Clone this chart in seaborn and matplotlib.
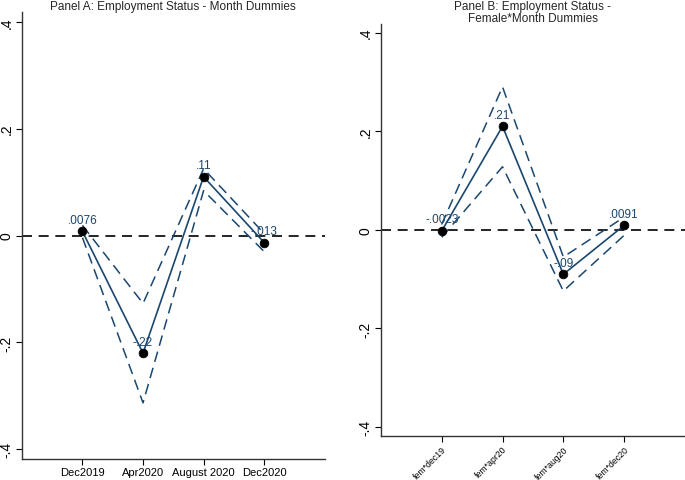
"""
plot.py - two-panel coefficient plot (employment status month dummies)
"""
import matplotlib
matplotlib.use("Agg")
import matplotlib.pyplot as plt
import seaborn as sns
import pandas as pd

# -----------------------------
# DATA
# -----------------------------
a_labels = ["Dec2019", "Apr2020", "August 2020", "Dec2020"]
a_coef = [0.0076, -0.22, 0.11, -0.013]
a_lower = [-0.004, -0.313, 0.084, -0.03]
a_upper = [0.019, -0.127, 0.125, 0.004]
a_text = [".0076", "-.22", ".11", "-.013"]

b_labels = ["fem*dec19", "fem*apr20", "fem*aug20", "fem*dec20"]
b_coef = [-0.0023, 0.21, -0.09, 0.0091]
b_lower = [-0.015, 0.128, -0.124, -0.011]
b_upper = [0.011, 0.29, -0.055, 0.026]
b_text = ["-.0023", ".21", "-.09", ".0091"]

yticks = [-0.4, -0.2, 0, 0.2, 0.4]
ytick_labels = ["-.4", "-.2", "0", ".2", ".4"]

NAVY = "#1a476f"
FONT = ["Liberation Sans", "DejaVu Sans"]


def make_frame(labels, coef, lower, upper, text):
    return pd.DataFrame({
        "pos": range(1, len(labels) + 1),
        "label": labels,
        "coef": coef,
        "lower": lower,
        "upper": upper,
        "text": text,
    })


def draw_panel(ax, df, title, rotate):
    # zero reference line
    ax.axhline(0, color="black", lw=1.2, ls=(0, (6, 4)), zorder=1)

    # confidence bands as dashed lines, estimate as solid line
    sns.lineplot(data=df, x="pos", y="lower", ax=ax, color=NAVY, lw=1.1,
                 dashes=False, linestyle=(0, (7, 4)))
    sns.lineplot(data=df, x="pos", y="upper", ax=ax, color=NAVY, lw=1.1,
                 dashes=False, linestyle=(0, (7, 4)))
    sns.lineplot(data=df, x="pos", y="coef", ax=ax, color=NAVY, lw=1.2)
    sns.scatterplot(data=df, x="pos", y="coef", ax=ax, color="black",
                    s=40, edgecolor="black", zorder=5)

    for _, row in df.iterrows():
        ax.annotate(row["text"], (row["pos"], row["coef"]),
                    xytext=(0, 4), textcoords="offset points",
                    ha="center", va="bottom", color=NAVY, fontsize=8.5,
                    family=FONT, zorder=6)

    ax.set_xlim(0, 5)
    ax.set_ylim(-0.418, 0.418)
    ax.set_xticks(df["pos"])
    if rotate:
        ax.set_xticklabels(df["label"], rotation=45, ha="right",
                           rotation_mode="anchor", fontsize=6.3, family=FONT)
    else:
        ax.set_xticklabels(df["label"], fontsize=8, family=FONT)
    ax.set_yticks(yticks)
    ax.set_yticklabels(ytick_labels, rotation=90, va="center",
                       fontsize=10, family=FONT)
    ax.set_xlabel("")
    ax.set_ylabel("")
    ax.set_title(title, fontsize=8.5, family=FONT, pad=2, linespacing=0.95)
    ax.tick_params(bottom=True, left=True, length=4, width=0.8,
                   colors="black", pad=2)
    for side in ["top", "right"]:
        ax.spines[side].set_visible(False)
    for side in ["left", "bottom"]:
        ax.spines[side].set_color("#333333")
        ax.spines[side].set_linewidth(1.0)
    ax.grid(False)


def main():
    sns.set_theme(style="white")
    plt.rcParams["font.family"] = FONT

    fig = plt.figure(figsize=(6.85, 4.81), dpi=100)
    ax_a = fig.add_axes([0.032, 0.0437, 0.442, 0.929])
    ax_b = fig.add_axes([0.556, 0.0915, 0.444, 0.857])

    draw_panel(ax_a, make_frame(a_labels, a_coef, a_lower, a_upper, a_text),
               "Panel A: Employment Status - Month Dummies", rotate=False)
    draw_panel(ax_b, make_frame(b_labels, b_coef, b_lower, b_upper, b_text),
               "Panel B: Employment Status -\nFemale*Month Dummies", rotate=True)

    fig.savefig("out.png", dpi=100)


if __name__ == "__main__":
    main()
